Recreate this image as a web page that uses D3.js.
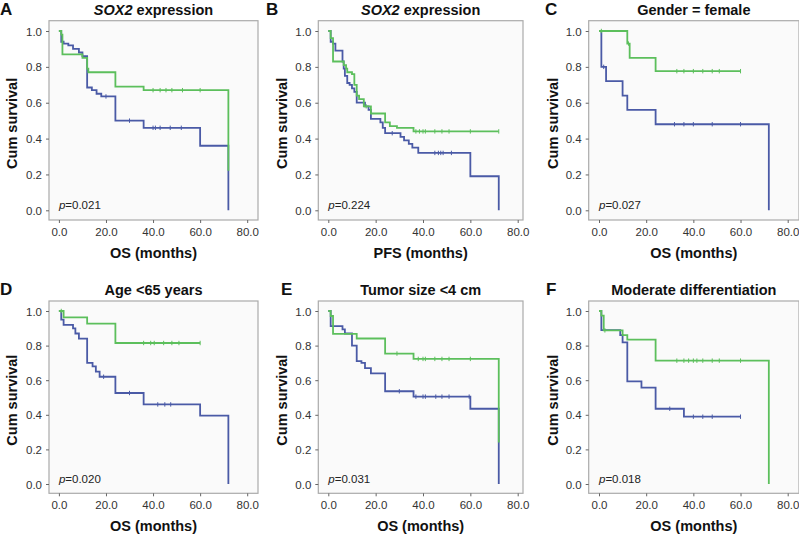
<!DOCTYPE html>
<html><head><meta charset="utf-8">
<script src="https://cdn.jsdelivr.net/npm/d3@7"></script>
<style>
html,body{margin:0;padding:0;background:#fff;}
svg{display:block;font-family:Arial,"Liberation Sans",sans-serif;}
</style></head>
<body>
<svg id="chart" width="799" height="535"></svg>
<script>
// ---------------- DATA ----------------
const panelLetters = ["A","B","C","D","E","F"];
const panelTitles = [["SOX2"," expression"],["SOX2"," expression"],["","Gender = female"],["","Age <65 years"],["","Tumor size <4 cm"],["","Moderate differentiation"]];
const xLabels = ["OS (months)","PFS (months)","OS (months)","OS (months)","OS (months)","OS (months)"];
const yLabel = "Cum survival";
const pValues = ["0.021","0.224","0.027","0.020","0.031","0.018"];
const xTicks = [0,20,40,60,80];
const yTicks = [0,0.2,0.4,0.6,0.8,1.0];

// Panel A
const aGreenT = [1,1.5,10,12,12.5,24,36,72];
const aGreenS = [0.98,0.87,0.85,0.79,0.77,0.69,0.67,0.22];
const aGreenEnd = 72;
const aGreenC = [40,43,45.5,48,52.5,60];
const aBlueT = [1,2,4,6,8.5,10,12,14,16,18,24,36,60,72];
const aBlueS = [0.94,0.93,0.92,0.90,0.88,0.86,0.685,0.67,0.65,0.635,0.50,0.46,0.36,0];
const aBlueEnd = 72;
const aBlueC = [20,30,40,41,43,47.3,52];

// Panel B
const bGreenT = [1,2,6.5,7.5,8,10,11,12,13,15,18,24,26,29,36];
const bGreenS = [0.96,0.83,0.81,0.79,0.77,0.76,0.70,0.64,0.62,0.58,0.54,0.49,0.47,0.46,0.44];
const bGreenEnd = 72;
const bGreenC = [16,37,38.5,40,41,45,48,51,60,72];
const bBlueT = [1,2,3,6,6.5,7,8,9,10,11,12,15.5,17,18,22,23,24,30.5,32,34,35.5,38,60,72];
const bBlueS = [0.94,0.93,0.89,0.83,0.79,0.75,0.71,0.70,0.68,0.66,0.60,0.58,0.56,0.51,0.49,0.46,0.43,0.41,0.39,0.37,0.35,0.32,0.19,0];
const bBlueEnd = 72;
const bBlueC = [27,45,46.5,47.5,48.5,52];

// Panel C
const cGreenT = [12,13,24];
const cGreenS = [0.93,0.85,0.776];
const cGreenEnd = 60;
const cGreenC = [1,12.5,33,36,40,44,48,51,60];
const cBlueT = [1,3,10,12,24,72];
const cBlueS = [0.80,0.72,0.64,0.56,0.48,0];
const cBlueEnd = 72;
const cBlueC = [2,32,36,40,48,60];

// Panel D
const dGreenT = [2,12,24];
const dGreenS = [0.963,0.927,0.815];
const dGreenEnd = 60;
const dGreenC = [1,36,39,40.5,44.5,48,51,60];
const dBlueT = [1,2,6,7,8.5,12,14.3,15.7,17.3,24,36,60,72];
const dBlueS = [0.95,0.92,0.90,0.87,0.84,0.70,0.68,0.65,0.62,0.526,0.46,0.395,0];
const dBlueEnd = 72;
const dBlueC = [19,30,42,45,47.5];

// Panel E
const eGreenT = [1,2,12,24,36,72];
const eGreenS = [0.971,0.868,0.841,0.754,0.723,0.24];
const eGreenEnd = 72;
const eGreenC = [29,38,40,41,45,48,51,60];
const eBlueT = [1,6,7,10,12,14,15.5,18,24,36,60,72];
const eBlueS = [0.913,0.894,0.87,0.80,0.71,0.70,0.67,0.64,0.536,0.505,0.435,0];
const eBlueEnd = 72;
const eBlueC = [30,37,40,41,45.4,48,51,59.5];

// Panel F
const fGreenT = [1,2,10,12,24,72];
const fGreenS = [0.973,0.888,0.861,0.834,0.713,0];
const fGreenEnd = 72;
const fGreenC = [2.5,33,36,38,40,41.5,44,48,51,60];
const fBlueT = [1,9,10,12,18,24,36];
const fBlueS = [0.89,0.86,0.819,0.593,0.557,0.435,0.389];
const fBlueEnd = 60;
const fBlueC = [30,40,44,48,60];

const seriesData = [
  {green:[aGreenT,aGreenS,aGreenEnd,aGreenC], blue:[aBlueT,aBlueS,aBlueEnd,aBlueC]},
  {green:[bGreenT,bGreenS,bGreenEnd,bGreenC], blue:[bBlueT,bBlueS,bBlueEnd,bBlueC]},
  {green:[cGreenT,cGreenS,cGreenEnd,cGreenC], blue:[cBlueT,cBlueS,cBlueEnd,cBlueC]},
  {green:[dGreenT,dGreenS,dGreenEnd,dGreenC], blue:[dBlueT,dBlueS,dBlueEnd,dBlueC]},
  {green:[eGreenT,eGreenS,eGreenEnd,eGreenC], blue:[eBlueT,eBlueS,eBlueEnd,eBlueC]},
  {green:[fGreenT,fGreenS,fGreenEnd,fGreenC], blue:[fBlueT,fBlueS,fBlueEnd,fBlueC]}
];

// ---------------- LAYOUT ----------------
const cols = [
  {fl:49, fr:258, x0:58.9, x80:247.2, ylabX:16.5},
  {fl:318.3, fr:523, x0:328.3, x80:517.7, ylabX:286.5},
  {fl:588.7, fr:799, x0:599, x80:787.7, ylabX:557.5}
];
const rows = [
  {ft:20.7, fb:220, y1:31, y0:210.3, titleY:15, xtickY:235.5, xlabY:257.5},
  {ft:301, fb:493.3, y1:311, y0:484, titleY:294.5, xtickY:509, xlabY:530.5}
];
const rowLetterX = [[0,266,545],[0,281,546]];
const BLUE = "#4a5aa6", GREEN = "#5cbf5c";

const svg = d3.select("#chart");

function survAt(T,S,t){ let s=1; for(let i=0;i<T.length;i++){ if(T[i]<=t) s=S[i]; } return s; }

seriesData.forEach((sd,i)=>{
  const c = cols[i%3], r = rows[Math.floor(i/3)];
  const g = svg.append("g");
  const x = d3.scaleLinear().domain([0,80]).range([c.x0,c.x80]);
  const y = d3.scaleLinear().domain([0,1]).range([r.y0,r.y1]);

  g.append("rect").attr("x",c.fl).attr("y",r.ft).attr("width",c.fr-c.fl).attr("height",r.fb-r.ft)
    .attr("fill","#fafafa").attr("stroke","#aaaaaa").attr("stroke-width",1.2);

  const ya = d3.axisLeft(y).tickValues(yTicks).tickFormat(d3.format(".1f")).tickSize(3).tickPadding(4);
  const yg = g.append("g").attr("transform",`translate(${c.fl},0)`).call(ya);
  const xa = d3.axisBottom(x).tickValues(xTicks).tickFormat(d3.format(".1f")).tickSize(3).tickPadding(4);
  const xg = g.append("g").attr("transform",`translate(0,${r.fb})`).call(xa);
  [yg,xg].forEach(a=>{
    a.select(".domain").remove();
    a.selectAll("line").attr("stroke","#666").attr("stroke-width",1);
    a.selectAll("text").attr("fill","#333").style("font-size","11.5px").style("font-family","Arial,'Liberation Sans',sans-serif");
  });
  xg.selectAll("text").attr("dy",null).attr("y",r.xtickY-r.fb);
  yg.selectAll("text").attr("dy","0.35em");

  // curves (blue first, green on top)
  [["blue",BLUE],["green",GREEN]].forEach(([k,col])=>{
    const [T,S,end,C] = sd[k];
    const pts = [[0,1]];
    T.forEach((t,j)=>pts.push([t,S[j]]));
    if(T[T.length-1] < end) pts.push([end,S[S.length-1]]);
    const line = d3.line().x(d=>x(d[0])).y(d=>y(d[1])).curve(d3.curveStepAfter);
    g.append("path").attr("d",line(pts)).attr("fill","none").attr("stroke",col).attr("stroke-width",1.8);
    g.selectAll(null).data(C).enter().append("line")
      .attr("x1",d=>x(d)).attr("x2",d=>x(d))
      .attr("y1",d=>y(survAt(T,S,d))-2.2).attr("y2",d=>y(survAt(T,S,d))+2.2)
      .attr("stroke",col).attr("stroke-width",1);
  });

  // p value
  const pt = g.append("text").attr("x",x(0)).attr("y",y(0)-1).style("font-size","11.5px").attr("fill","#222");
  pt.append("tspan").style("font-style","italic").text("p");
  pt.append("tspan").text("="+pValues[i]);

  // title
  const tt = g.append("text").attr("x",(c.fl+c.fr)/2).attr("y",r.titleY).attr("text-anchor","middle")
    .style("font-size","14.5px").style("font-weight","bold").attr("fill","#111");
  if(panelTitles[i][0]) tt.append("tspan").style("font-style","italic").text(panelTitles[i][0]);
  tt.append("tspan").text(panelTitles[i][1]);

  // letter
  g.append("text").attr("x",rowLetterX[Math.floor(i/3)][i%3]).attr("y",r.titleY).style("font-size","17px")
    .style("font-weight","bold").attr("fill","#111").text(panelLetters[i]);

  // axis titles
  g.append("text").attr("x",(c.fl+c.fr)/2).attr("y",r.xlabY).attr("text-anchor","middle")
    .style("font-size","14.5px").style("font-weight","bold").attr("fill","#111").text(xLabels[i]);
  g.append("text").attr("transform",`translate(${c.ylabX},${(r.ft+r.fb)/2+3}) rotate(-90)`).attr("text-anchor","middle")
    .style("font-size","14.5px").style("font-weight","bold").attr("fill","#111").text(yLabel);
});
</script>
</body></html>
